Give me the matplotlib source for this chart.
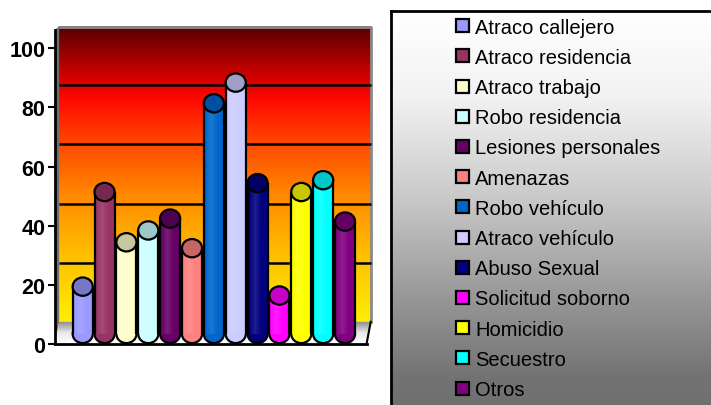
import numpy as np
import matplotlib
matplotlib.use("Agg")
import matplotlib.pyplot as plt
from matplotlib.patches import Ellipse, Rectangle, Polygon
from matplotlib.colors import LinearSegmentedColormap, to_rgb

plt.rcParams['font.family'] = ['Liberation Sans', 'DejaVu Sans']

# datos
categorias = ['Atraco callejero', 'Atraco residencia', 'Atraco trabajo', 'Robo residencia',
              'Lesiones personales', 'Amenazas', 'Robo vehículo', 'Atraco vehículo',
              'Abuso Sexual', 'Solicitud soborno', 'Homicidio', 'Secuestro', 'Otros']
valores = [16, 48, 31, 35, 39, 29, 78, 85, 51, 13, 48, 52, 38]
colores = ['#9999FF', '#993366', '#FFFFCC', '#CCFFFF', '#660066', '#FF8080', '#0066CC',
           '#CCCCFF', '#000080', '#FF00FF', '#FFFF00', '#00FFFF', '#800080']
ticks = [0, 20, 40, 60, 80, 100]

W, H = 711, 406
fig = plt.figure(figsize=(W / 100, H / 100), dpi=100)

# geometria (pixeles de la imagen)
px_left, px_right, px_zero, px_top = 55, 374, 345, 25
x0, dxp = 82.7, 21.86        # centro primera barra, paso
ppu = 2.957                  # pixeles por unidad
ax = fig.add_axes([px_left / W, (H - px_zero) / H,
                   (px_right - px_left) / W, (px_zero - px_top) / H])
xl = (px_left - x0) / dxp
xr = (px_right - x0) / dxp
ax.set_xlim(xl, xr)
ax.set_ylim(0, (px_zero - px_top) / ppu)

prof = 7.5      # profundidad
dx = 0.19
wall_l, wall_r = xl + dx, (370.7 - x0) / dxp
wall_top = 107.3
front_r = wall_r - dx

# pared de fondo
cmap_pared = LinearSegmentedColormap.from_list('pared', [
    (0.0, '#FFEE00'), (0.22, '#FFC000'), (0.42, '#FF8C00'), (0.6, '#FF4A00'),
    (0.75, '#FF0A00'), (0.82, '#D80000'), (1.0, '#580000')])
grad = np.linspace(0, 1, 256).reshape(-1, 1)
ax.imshow(grad, cmap=cmap_pared, origin='lower', aspect='auto',
          extent=(wall_l, wall_r, prof, wall_top), zorder=0)
ax.plot([wall_l, wall_r, wall_r], [wall_top, wall_top, prof], color='#8a8a8a', lw=2, zorder=1)

# pared lateral izquierda
lateral = Polygon([(xl, 0), (wall_l, prof), (wall_l, wall_top), (xl, wall_top - 1)],
                  closed=True, facecolor='#6e6e6e', edgecolor='none', zorder=1)
ax.add_patch(lateral)

# suelo
suelo = Polygon([(xl, 0), (front_r, 0), (wall_r, prof), (wall_l, prof)],
                closed=True, facecolor='none', edgecolor='none')
ax.add_patch(suelo)
cmap_suelo = LinearSegmentedColormap.from_list('suelo', ['#ffffff', '#e8e8e8', '#888888'])
im = ax.imshow(grad, cmap=cmap_suelo, origin='lower', aspect='auto',
               extent=(xl, wall_r, 0, prof), zorder=1)
im.set_clip_path(suelo)
ax.plot([front_r, wall_r], [0, prof], color='black', lw=1.5, zorder=2)

# lineas de division
ax.hlines([t + prof for t in ticks[1:-1]], wall_l, wall_r, color='black', lw=1.8, zorder=2)

# cilindros
base = 3.4
ancho = 0.92
alto_elipse = 6.2
for i, (v, c) in enumerate(zip(valores, colores)):
    rgb = np.array(to_rgb(c))
    tapa = rgb * 0.78
    ax.add_patch(Ellipse((i, base), ancho, alto_elipse, facecolor=c,
                         edgecolor='black', lw=1.6, zorder=5 + i))
    barra = ax.bar(i, v, bottom=base, width=ancho, color=c, edgecolor='none',
                   zorder=5 + i)[0]
    # sombreado suave
    sombra = np.linspace(-1, 1, 64)
    shade = np.zeros((1, 64, 4))
    shade[..., :3] = 1.0
    shade[..., 3] = np.clip(0.12 * (1 - np.abs(sombra + 0.3) * 1.6), 0, 0.12)
    im2 = ax.imshow(shade, aspect='auto', extent=(i - ancho / 2, i + ancho / 2, base, base + v),
                    zorder=5 + i)
    im2.set_clip_path(barra)
    ax.vlines([i - ancho / 2, i + ancho / 2], base, base + v, color='black', lw=1.6, zorder=5 + i)
    ax.add_patch(Ellipse((i, base + v), ancho, alto_elipse, facecolor=tapa,
                         edgecolor='black', lw=1.6, zorder=5 + i))

# borde frontal y eje
ax.plot([xl, front_r], [0, 0], color='black', lw=2, zorder=30, clip_on=False)
for s in ['top', 'right', 'bottom']:
    ax.spines[s].set_visible(False)
ax.spines['left'].set_linewidth(2)
ax.spines['left'].set_bounds(0, wall_top - 1)
ax.spines['left'].set_zorder(31)
ax.set_xticks([])
ax.set_yticks(ticks)
ax.tick_params(axis='y', direction='out', length=5, width=1.5, pad=2, labelsize=15.5)
for lab in ax.get_yticklabels():
    lab.set_fontweight('bold')

# leyenda
axl = fig.add_axes([391 / W, 0, (W - 391) / W + 0.01, (H - 12) / H])
axl.set_xlim(391, W + 7)
axl.set_ylim(H, 12)
cmap_ley = LinearSegmentedColormap.from_list('ley', [
    (0.0, '#ffffff'), (0.22, '#f2f2f2'), (0.47, '#cacaca'), (0.73, '#979797'),
    (0.93, '#737373'), (1.0, '#707070')])
axl.imshow(grad, cmap=cmap_ley, origin='upper', aspect='auto',
           extent=(391, W + 7, H, 12), zorder=0)
axl.set_xticks([])
axl.set_yticks([])
axl.spines['bottom'].set_visible(False)
axl.spines['right'].set_visible(False)
axl.spines['top'].set_linewidth(2)
axl.spines['left'].set_linewidth(2)
for i, (nombre, c) in enumerate(zip(categorias, colores)):
    yc = 26.7 + 30.2 * i
    axl.add_patch(Rectangle((455.5, yc - 6.5), 13, 13, facecolor=c, edgecolor='black',
                            lw=1.6, zorder=2))
    axl.text(475, yc + 6.8, nombre, fontsize=14.5, va='baseline', ha='left', zorder=2)

fig.savefig('out.png', dpi=100)
